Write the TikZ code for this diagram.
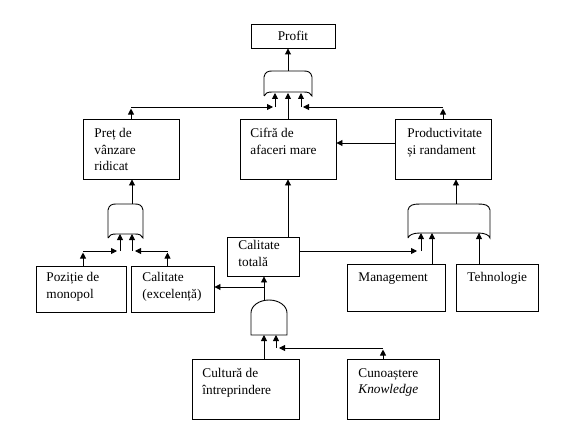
\documentclass[tikz,border=0pt]{standalone}
\usepackage{fontspec}
\setmainfont{Liberation Serif}
\usetikzlibrary{arrows.meta}
\begin{document}
\begin{tikzpicture}[x=1pt,y=-1pt,
  line width=0.9pt,
  >={Triangle[length=6pt,width=6pt]},
  box/.style={draw,rectangle,inner sep=0pt},
  txt/.style={anchor=north west,inner sep=0pt,align=left,font=\fontsize{13.3}{16.5}\selectfont},
  gate/.style={draw,line width=0.9pt}]
\useasboundingbox (0,0) rectangle (576,444);
% boxes
\node[box,minimum width=84pt,minimum height=24pt,font=\fontsize{13.3}{16.5}\selectfont] (profit) at (293,36) {Profit};
\node[box,minimum width=96pt,minimum height=60pt] (pret) at (131,149) {};
\node[box,minimum width=96pt,minimum height=60pt] (cifra) at (288,149) {};
\node[box,minimum width=96pt,minimum height=60pt] (prod) at (443,149) {};
\node[box,minimum width=72pt,minimum height=39pt] (caltot) at (263,256.5) {};
\node[box,minimum width=90pt,minimum height=46pt] (pozitie) at (81,289) {};
\node[box,minimum width=83pt,minimum height=46pt] (calex) at (172.5,289) {};
\node[box,minimum width=98pt,minimum height=47pt] (mgmt) at (396,287.5) {};
\node[box,minimum width=82pt,minimum height=47pt] (tehno) at (497,287.5) {};
\node[box,minimum width=107pt,minimum height=60pt] (cultura) at (245.5,389) {};
\node[box,minimum width=92pt,minimum height=60pt] (cunoa) at (393,389) {};
% texts
\node[txt] (tpret) at (94,128) {Preț de\\vânzare\\ridicat};
\node[txt] (tcifra) at (250,128) {Cifră de\\afaceri mare};
\node[txt] (tprod) at (407,128) {Productivitate\\și randament};
\node[txt] (tcaltot) at (238,240) {Calitate\\totală};
\node[txt] (tpozitie) at (46,272) {Poziție de\\monopol};
\node[txt] (tcalex) at (142,272) {Calitate\\(excelență)};
\node[txt] (tmgmt) at (358,272) {Management};
\node[txt] (ttehno) at (467,272) {Tehnologie};
\node[txt] (tcultura) at (202,368) {Cultură de\\întreprindere};
\node[txt] (tcunoa) at (358,368) {Cunoaștere\\\textit{Knowledge}};
% gates
\draw[gate] (264,96) -- (264,77) .. controls (265,72) and (268,71) .. (272,71) -- (304,71)
  .. controls (308,71) and (311,72) .. (312,77) -- (312,96)
  .. controls (311,93) and (308,92) .. (304,92) -- (272,92) .. controls (268,92) and (265,93) .. (264,96);
\draw[gate] (108,238) -- (108,210) .. controls (109,205) and (112,204) .. (116,204) -- (135,204)
  .. controls (139,204) and (142,205) .. (143,210) -- (143,238)
  .. controls (142,235) and (139,234) .. (135,234) -- (116,234) .. controls (112,234) and (109,235) .. (108,238);
\draw[gate] (408,238) -- (408,210) .. controls (409,205) and (413,204) .. (420,204) -- (478,204)
  .. controls (485,204) and (489,205) .. (490,210) -- (490,238)
  .. controls (489,235) and (485,233) .. (478,233) -- (420,233) .. controls (413,233) and (409,235) .. (408,238);
\draw[gate] (251,335) -- (251,313) arc[start angle=180,end angle=360,x radius=18,y radius=13] -- (287,335) -- cycle;
% gate ports
\coordinate (or1in1) at (276,93);
\coordinate (or1in2) at (288,93);
\coordinate (or1in3) at (300,93);
\coordinate (or1out) at (288,71);
\coordinate (or2in1) at (120,234);
\coordinate (or2in2) at (132,234);
\coordinate (or2out) at (132,204);
\coordinate (or3in1) at (420,233);
\coordinate (or3in2) at (432,233);
\coordinate (or3in3) at (479,233);
\coordinate (or3out) at (456,204);
\coordinate (andin1) at (264,335);
\coordinate (andin2) at (276,335);
\coordinate (andout) at (264,300);
% bus levels
\coordinate (busT) at (0,107);
\coordinate (busL) at (0,251);
\coordinate (busR) at (0,251);
\coordinate (busA) at (0,287);
\coordinate (busB) at (0,348);
% top gate
\draw[->] (or1out) -- (or1out |- profit.south);
\draw[->] (cifra.north -| or1in2) -- (or1in2);
\draw[->] (pret.north) -- ++(0,-10);
\draw[->] (pret.north |- busT) -- ([xshift=-3pt]or1in1 |- busT);
\draw[->] ([xshift=-1pt]or1in1 |- busT) -- ([xshift=-1pt]or1in1);
\draw[->] (prod.north) -- ++(0,-10);
\draw[->] (prod.north |- busT) -- ([xshift=3pt]or1in3 |- busT);
\draw[->] ([xshift=1pt]or1in3 |- busT) -- ([xshift=1pt]or1in3);
\draw[->] ([yshift=6pt]prod.west) -- ([yshift=6pt]cifra.east);
\draw[->] (cifra.south |- caltot.north) -- (cifra.south);
% left gate
\draw[->] (or2out) -- (or2out |- pret.south);
\draw[->] ([xshift=2pt]pozitie.north) -- ++(0,-13);
\draw[->] ([xshift=2pt]pozitie.north |- busL) -- ([xshift=-3pt]or2in1 |- busL);
\draw[->] (or2in1 |- busL) -- (or2in1);
\draw[->] ([xshift=-5pt]calex.north) -- ++(0,-13);
\draw[->] ([xshift=-5pt]calex.north |- busL) -- ([xshift=3pt]or2in2 |- busL);
\draw[->] (or2in2 |- busL) -- (or2in2);
% right gate
\draw[->] (or3out) -- (or3out |- prod.south);
\draw[->] (caltot.east |- busR) -- ([xshift=-3pt]or3in1 |- busR);
\draw[->] ([xshift=1pt]or3in1 |- busR) -- ([xshift=1pt]or3in1);
\draw[->] (mgmt.north -| or3in2) -- (or3in2);
\draw[->] (tehno.north -| or3in3) -- (or3in3);
% and gate
\draw[->] (andout) -- (andout |- caltot.south);
\draw[->] (andout |- busA) -- (calex.east |- busA);
\draw[->] (cultura.north -| andin1) -- (andin1);
\draw[->] ([xshift=-10pt]cunoa.north) -- ++(0,-9);
\draw[->] ([xshift=-10pt]cunoa.north |- busB) -- ([xshift=3pt]andin2 |- busB);
\draw[->] (andin2 |- busB) -- (andin2);
\end{tikzpicture}
\end{document}
